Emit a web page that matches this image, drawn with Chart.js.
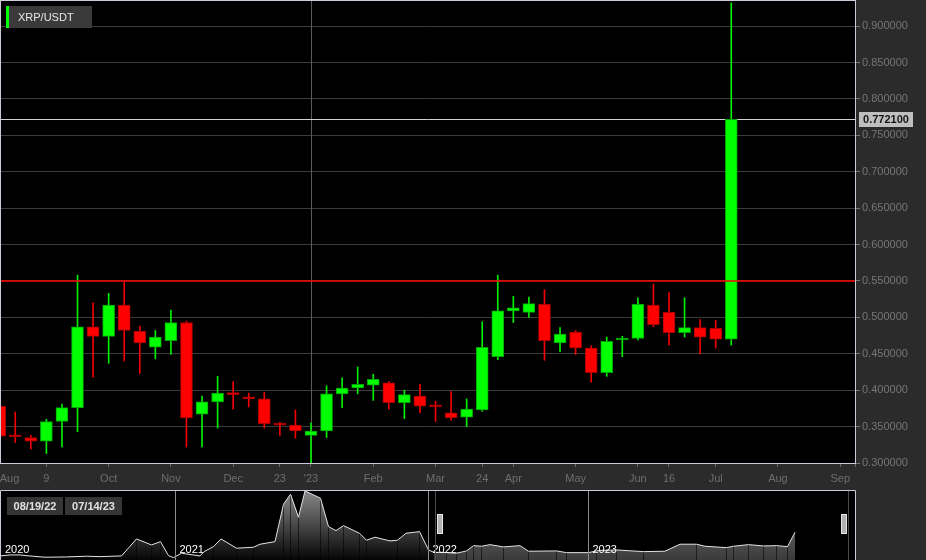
<!DOCTYPE html>
<html>
<head>
<meta charset="utf-8">
<script src="https://cdn.jsdelivr.net/npm/chart.js@4.4.0/dist/chart.umd.min.js"></script>
<style>
html, body { margin: 0; padding: 0; background: #2b2b2b; }
#wrap { position: relative; width: 926px; height: 560px; overflow: hidden; }
#main { position: absolute; left: 0; top: 0; }
#nav { position: absolute; left: 0; top: 490px; }
</style>
</head>
<body>
<div id="wrap">
  <canvas id="main" width="926" height="490"></canvas>
  <canvas id="nav" width="926" height="70"></canvas>
</div>
<script>
// weekly candles, Aug 15 2022 .. Jul 10 2023
const opens  = [0.378,0.337,0.335,0.330,0.357,0.376,0.487,0.474,0.517,0.481,0.459,0.468,0.493,0.367,0.384,0.396,0.391,0.388,0.353,0.352,0.338,0.344,0.395,0.403,0.407,0.410,0.383,0.392,0.378,0.369,0.363,0.373,0.446,0.509,0.507,0.518,0.465,0.480,0.458,0.424,0.469,0.471,0.517,0.507,0.479,0.486,0.485,0.470];
const highs  = [0.392,0.370,0.338,0.360,0.381,0.558,0.520,0.533,0.549,0.488,0.482,0.510,0.495,0.392,0.419,0.412,0.396,0.397,0.356,0.373,0.355,0.406,0.417,0.432,0.422,0.412,0.400,0.408,0.385,0.398,0.388,0.494,0.558,0.529,0.528,0.538,0.486,0.482,0.461,0.473,0.474,0.527,0.546,0.534,0.527,0.497,0.496,0.932];
const lows   = [0.333,0.328,0.319,0.313,0.322,0.343,0.418,0.437,0.440,0.423,0.443,0.449,0.322,0.322,0.348,0.374,0.377,0.348,0.338,0.334,0.300,0.335,0.376,0.395,0.386,0.374,0.361,0.369,0.357,0.359,0.350,0.371,0.442,0.493,0.500,0.441,0.453,0.449,0.411,0.419,0.446,0.469,0.487,0.462,0.473,0.450,0.458,0.462];
const closes = [0.337,0.336,0.330,0.357,0.376,0.487,0.474,0.517,0.482,0.465,0.473,0.493,0.362,0.384,0.396,0.394,0.388,0.354,0.352,0.344,0.344,0.395,0.403,0.408,0.415,0.383,0.394,0.378,0.377,0.362,0.374,0.459,0.509,0.513,0.519,0.468,0.477,0.458,0.424,0.467,0.471,0.518,0.490,0.479,0.486,0.473,0.470,0.7721];

const xTickIdx    = [0, 3, 7, 11, 15, 18, 20, 24, 28, 31, 33, 37, 41, 43, 46, 50, 54, 54.95];
const xTickLabels = ['Aug', '9', 'Oct', 'Nov', 'Dec', '23', "'23", 'Feb', 'Mar', '24', 'Apr', 'May', 'Jun', '16', 'Jul', 'Aug', 'Sep', ''];
const yTicks = [0.30, 0.35, 0.40, 0.45, 0.50, 0.55, 0.60, 0.65, 0.70, 0.75, 0.80, 0.85, 0.90];
const yearStartIdx = 20;
const levelPrice = 0.55;
const lastPrice = closes[closes.length - 1];

// navigator (ordinal slots) 2020 .. 2023
const navSlots  = [0,2,4,5.2,9,13.3,17.3,20,24.3,27.3,30.3,32.1,33.7,34.7,36.3,40,40.8,42.7,44.2,47.3,50.7,52,55,56.7,58.1,59.7,61,64.1,65.7,67.2,68.7,71.9,73.3,75,78,79.5,81.2,83.9,85.7,86.7,89.3,91.3,93.3,94.7,96.3,98,100.7,104,105.7,111.3,113.3,117.7,119.3,120,123.3,128.7,133,136,139.3,141,145.3,146.7,149.7,152.7,155.3,157.5,159];
const navPrices = [0.20,0.227,0.227,0.208,0.165,0.173,0.192,0.181,0.20,0.659,0.497,0.586,0.208,0.154,0.273,0.20,0.316,0.451,0.659,0.408,0.435,0.516,0.586,1.596,1.866,1.245,1.955,1.758,0.991,0.883,1.018,0.813,0.624,0.705,0.605,0.624,0.813,0.856,0.362,0.30,0.289,0.273,0.335,0.478,0.462,0.505,0.443,0.478,0.327,0.335,0.289,0.289,0.335,0.35,0.362,0.316,0.327,0.516,0.516,0.462,0.424,0.462,0.505,0.47,0.478,0.451,0.84];
const navYears = ['2020', '2021', '2022', '2023'];
const navYearSlots = [0, 35, 85.6, 117.6];
const navRange = [87, 169.6];
const navDates = ['08/19/22', '07/14/23'];

const FONT = '"Liberation Sans", Arial, sans-serif';
const isUp = i => closes[i] >= opens[i];

const mainDecor = {
  id: 'mainDecor',
  beforeDraw(chart) {
    const { ctx, chartArea: a } = chart;
    ctx.save();
    ctx.fillStyle = '#000';
    ctx.fillRect(a.left, 0, a.right - a.left, a.bottom);
    ctx.restore();
  },
  beforeDatasetsDraw(chart) {
    const { ctx, chartArea: a, scales: { x, y } } = chart;
    ctx.save();
    ctx.lineWidth = 1;
    const vx = Math.round(x.getPixelForValue(yearStartIdx)) + 0.5;
    ctx.strokeStyle = '#5c5c5c';
    ctx.beginPath(); ctx.moveTo(vx, 0); ctx.lineTo(vx, a.bottom); ctx.stroke();
    const py = Math.round(y.getPixelForValue(lastPrice)) + 0.5;
    ctx.strokeStyle = '#d2d2d2';
    ctx.beginPath(); ctx.moveTo(a.left, py); ctx.lineTo(a.right, py); ctx.stroke();
    ctx.restore();
  },
  afterDatasetsDraw(chart) {
    const { ctx, chartArea: a, scales: { y } } = chart;
    ctx.save();
    const ry = y.getPixelForValue(levelPrice);
    ctx.strokeStyle = '#ff0000';
    ctx.lineWidth = 1.5;
    ctx.beginPath(); ctx.moveTo(a.left, ry); ctx.lineTo(a.right, ry); ctx.stroke();
    ctx.restore();
  },
  afterDraw(chart) {
    const { ctx, chartArea: a, scales: { y } } = chart;
    ctx.save();
    // frame
    ctx.strokeStyle = '#c9cbd8';
    ctx.lineWidth = 1;
    ctx.strokeRect(a.left + 0.5, 0.5, a.right - a.left, a.bottom);
    // title
    ctx.fillStyle = '#3a3a3a';
    ctx.fillRect(6, 6, 86, 22);
    ctx.fillStyle = '#00ff00';
    ctx.fillRect(6, 6, 3, 22);
    ctx.fillStyle = '#e6e6e6';
    ctx.font = '11px ' + FONT;
    ctx.textBaseline = 'middle';
    ctx.textAlign = 'left';
    ctx.fillText('XRP/USDT', 18, 17.5);
    // last price tag
    const py = Math.round(y.getPixelForValue(lastPrice));
    ctx.fillStyle = '#bfbfbf';
    ctx.fillRect(a.right + 4, py - 7, 54, 15);
    ctx.fillStyle = '#151515';
    ctx.font = 'bold 11px ' + FONT;
    ctx.textAlign = 'center';
    ctx.fillText(lastPrice.toFixed(6), a.right + 31, py + 0.5);
    ctx.restore();
  }
};

new Chart(document.getElementById('main'), {
  type: 'bar',
  data: {
    datasets: [
      {
        label: 'body',
        order: 0,
        data: opens.map((o, i) => ({ x: i, y: [o, closes[i]] })),
        backgroundColor: c => isUp(c.dataIndex) ? '#00ff00' : '#ff0000',
        borderColor: c => isUp(c.dataIndex) ? '#00a600' : '#a60000',
        borderWidth: 1,
        borderSkipped: false,
        barThickness: 12,
        minBarLength: 2,
        grouped: false
      },
      {
        label: 'wick',
        order: 1,
        data: lows.map((l, i) => ({ x: i, y: [l, highs[i]] })),
        backgroundColor: c => isUp(c.dataIndex) ? '#00f000' : '#f00000',
        borderWidth: 0,
        barThickness: 1,
        grouped: false
      }
    ]
  },
  options: {
    responsive: false,
    animation: false,
    layout: { padding: { top: 1, left: 0, right: 0, bottom: 0 } },
    plugins: { legend: { display: false }, tooltip: { enabled: false } },
    scales: {
      x: {
        type: 'linear',
        min: 0.02,
        max: 54.95,
        offset: false,
        afterBuildTicks: s => { s.ticks = xTickIdx.map(v => ({ value: v })); },
        afterFit: s => { s.height = 27; s.paddingLeft = 0; s.paddingRight = 0; },
        grid: { offset: false, drawOnChartArea: false, drawTicks: true, tickLength: 4, tickColor: '#6a6a6a' },
        border: { display: false },
        ticks: {
          autoSkip: false, maxRotation: 0, align: 'inner', padding: 5,
          color: '#6e6e6e', font: { family: FONT, size: 11 },
          callback: (v, i) => xTickLabels[i]
        }
      },
      y: {
        position: 'right',
        min: 0.3,
        max: 0.9346,
        afterBuildTicks: s => { s.ticks = yTicks.map(v => ({ value: v })); },
        afterFit: s => { s.width = 71; s.paddingTop = 0; s.paddingBottom = 0; },
        grid: { color: '#3c3c3c', tickLength: 5, tickColor: '#777' },
        border: { display: false },
        ticks: {
          padding: 2, color: '#767676', font: { family: FONT, size: 11 },
          callback: v => v.toFixed(6)
        }
      }
    }
  },
  plugins: [mainDecor]
});

function navGradient(chart, bottomColor) {
  const a = chart.chartArea;
  if (!a) return bottomColor;
  const g = chart.ctx.createLinearGradient(0, a.top, 0, a.bottom);
  g.addColorStop(0, '#8a8a8a');
  g.addColorStop(1, bottomColor);
  return g;
}

const navDecor = {
  id: 'navDecor',
  beforeDraw(chart) {
    const { ctx, chartArea: a } = chart;
    ctx.save();
    ctx.fillStyle = '#000';
    ctx.fillRect(a.left, a.top, a.right - a.left, a.bottom - a.top);
    ctx.restore();
  },
  afterDatasetsDraw(chart) {
    const { ctx, chartArea: a, scales: { x } } = chart;
    ctx.save();
    ctx.lineWidth = 1;
    // year separators and labels
    ctx.font = '11px ' + FONT;
    ctx.textAlign = 'left';
    ctx.textBaseline = 'alphabetic';
    navYearSlots.forEach((s, i) => {
      const px = Math.round(x.getPixelForValue(s)) + 0.5;
      if (i > 0) {
        ctx.strokeStyle = '#8c8c8c';
        ctx.beginPath(); ctx.moveTo(px, a.top); ctx.lineTo(px, a.bottom); ctx.stroke();
      }
      ctx.fillStyle = '#ffffff';
      ctx.fillText(navYears[i], px + (i > 0 ? 4 : 4.5), 63);
    });
    // selection edges + handles
    navRange.forEach((s, i) => {
      const px = Math.round(x.getPixelForValue(s)) + 0.5;
      ctx.strokeStyle = '#4a4a4a';
      ctx.beginPath(); ctx.moveTo(px, a.top); ctx.lineTo(px, a.bottom); ctx.stroke();
      const hx = i === 0 ? px + 1.5 : px - 7.5;
      ctx.fillStyle = '#e8e8e8';
      ctx.fillRect(hx, 24, 6, 20);
      ctx.fillStyle = '#7a7a7a';
      ctx.fillRect(hx + 1.5, 25, 1, 18);
      ctx.fillRect(hx + 3.5, 25, 1, 18);
    });
    // date boxes
    ctx.font = 'bold 11px ' + FONT;
    ctx.textAlign = 'center';
    ctx.textBaseline = 'middle';
    [[7, 56], [65, 57]].forEach(([bx, bw], i) => {
      ctx.fillStyle = '#353535';
      ctx.fillRect(bx, 7, bw, 18);
      ctx.fillStyle = '#e2e2e2';
      ctx.fillText(navDates[i], bx + bw / 2, 16.5);
    });
    // frame
    ctx.strokeStyle = '#c9cbd8';
    ctx.beginPath();
    ctx.moveTo(a.left + 0.5, a.bottom); ctx.lineTo(a.left + 0.5, 0.5);
    ctx.lineTo(a.right + 0.5, 0.5); ctx.lineTo(a.right + 0.5, a.bottom);
    ctx.stroke();
    ctx.restore();
  }
};

new Chart(document.getElementById('nav'), {
  type: 'line',
  data: {
    datasets: [{
      data: navSlots.map((s, i) => ({ x: s, y: navPrices[i] })),
      borderColor: '#e4e4e4',
      borderWidth: 1,
      pointRadius: 0,
      tension: 0,
      fill: 'start',
      backgroundColor: c => navGradient(c.chart, '#050505'),
      segment: {
        backgroundColor: c => c.p0.parsed.x >= navRange[0] - 1 ? navGradient(c.chart, '#3a3a3a') : navGradient(c.chart, '#050505')
      }
    }]
  },
  options: {
    responsive: false,
    animation: false,
    layout: { padding: { top: 0, left: 0, right: 71, bottom: 0 } },
    plugins: { legend: { display: false }, tooltip: { enabled: false } },
    scales: {
      x: { type: 'linear', display: false, min: 0, max: 171 },
      y: { display: false, min: 0.09, max: 1.98 }
    }
  },
  plugins: [navDecor]
});
</script>
</body>
</html>
